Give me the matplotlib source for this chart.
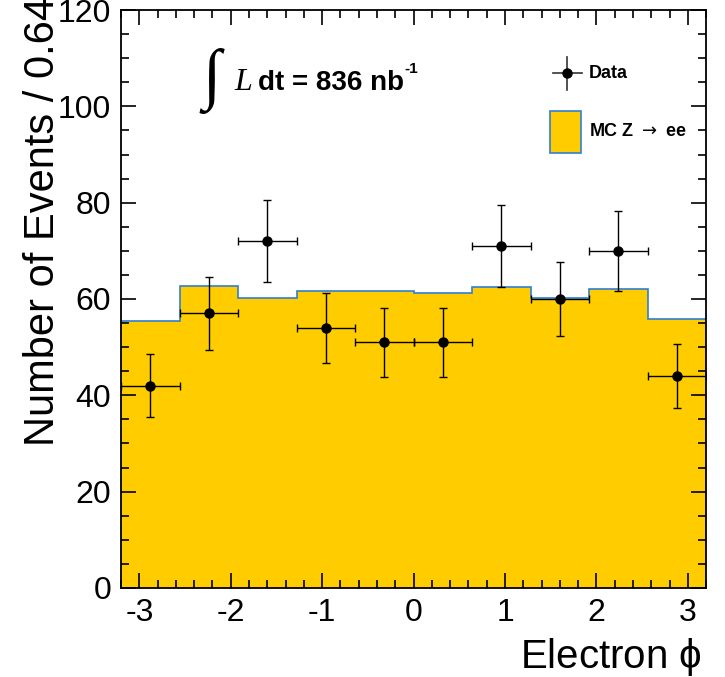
import matplotlib
matplotlib.use("Agg")
import matplotlib.pyplot as plt
from matplotlib.patches import Rectangle
from matplotlib.lines import Line2D
from matplotlib.ticker import MultipleLocator
import numpy as np

plt.rcParams['font.family'] = ['Liberation Sans', 'DejaVu Sans']
plt.rcParams['axes.unicode_minus'] = False

# binning in electron phi (bin width 0.64)
edges = [-3.2, -2.56, -1.92, -1.28, -0.64, 0.0, 0.64, 1.28, 1.92, 2.56, 3.2]
mc_counts = [55.5, 62.7, 60.2, 61.7, 61.6, 61.3, 62.4, 60.2, 62.1, 55.8]
data_counts = [42, 57, 72, 54, 51, 51, 71, 60, 70, 44]

edges = np.array(edges)
centers = 0.5 * (edges[:-1] + edges[1:])
half_w = 0.5 * (edges[1:] - edges[:-1])
data_err = np.sqrt(data_counts)

fig = plt.figure(figsize=(7.25, 6.77), dpi=100)
ax = fig.add_axes([0.167, 0.1315, 0.807, 0.8537])

ax.stairs(mc_counts, edges, fill=True, color='#FFCC00', zorder=1)
ax.stairs(mc_counts, edges, baseline=None, color='#2f7fd6', lw=1.2, zorder=2)

ax.errorbar(centers, data_counts, xerr=half_w, yerr=data_err, fmt='o',
            color='black', ms=6.5, elinewidth=1.0, capsize=3, capthick=1.0,
            zorder=3)

ax.set_xlim(-3.2, 3.2)
ax.set_ylim(0, 120)
ax.xaxis.set_major_locator(MultipleLocator(1))
ax.xaxis.set_minor_locator(MultipleLocator(0.2))
ax.yaxis.set_major_locator(MultipleLocator(20))
ax.yaxis.set_minor_locator(MultipleLocator(5))
ax.tick_params(which='both', direction='in', top=True, right=True, width=1.2)
ax.tick_params(which='major', length=11, labelsize=23)
ax.tick_params(which='minor', length=5.5)
ax.tick_params(axis='x', which='major', pad=7)
ax.tick_params(axis='y', which='major', pad=7)
for s in ax.spines.values():
    s.set_linewidth(1.3)

# axis titles (ROOT style, aligned to the axis end)
fig.text(0.968, 1 - 668 / 677, r"Electron $\mathregular{\phi}$", ha='right',
         va='baseline', fontsize=29)
fig.text(54 / 725, 1 - 446 / 677, "Number of Events / 0.64", rotation=90,
         rotation_mode='anchor', ha='left', va='baseline', fontsize=30)

# luminosity label
fig.text(202 / 725, 1 - 114 / 677, "\u222b", fontsize=48, family='Liberation Serif',
         ha='left', va='bottom')
fig.text(234 / 725, 1 - 90 / 677, "L", fontsize=23, family='Liberation Serif',
         style='italic', ha='left', va='baseline')
fig.text(258 / 725, 1 - 90 / 677, "dt = 836 nb", fontsize=20,
         weight='bold', ha='left', va='baseline')
fig.text(404 / 725, 1 - 73 / 677, "-1", fontsize=11,
         weight='bold', ha='left', va='baseline')

# legend drawn by hand
ax.add_line(Line2D([0.738, 0.788], [0.8906, 0.8906], transform=ax.transAxes,
                   color='#333333', lw=1.2))
ax.add_line(Line2D([0.7624, 0.7624], [0.862, 0.918], transform=ax.transAxes,
                   color='#333333', lw=1.2))
ax.plot([0.7624], [0.8906], 'o', color='black', ms=6.5, transform=ax.transAxes)
ax.text(0.799, 0.8906, "Data", transform=ax.transAxes, fontsize=13,
        weight='bold', va='center', ha='left')
ax.add_patch(Rectangle((0.733, 0.752), 0.053, 0.073, transform=ax.transAxes,
                       facecolor='#FFCC00', edgecolor='#2f7fd6', lw=1.2))
ax.text(0.799, 0.79, r"MC Z $\rightarrow$ ee", transform=ax.transAxes,
        fontsize=13, weight='bold', va='center', ha='left')

fig.savefig("out.png", dpi=100)
